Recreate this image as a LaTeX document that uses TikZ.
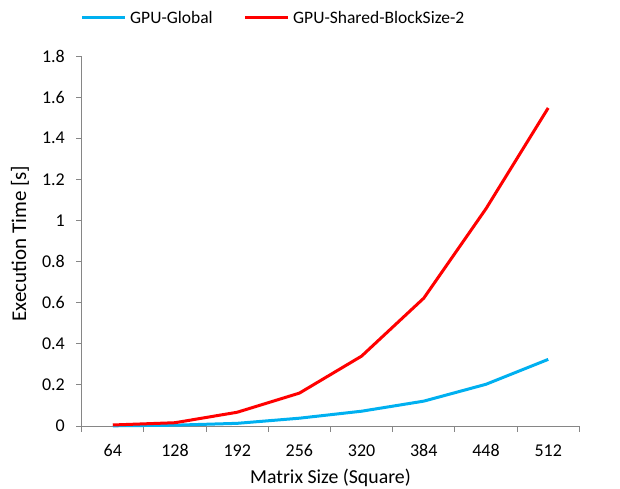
\documentclass[tikz,border=0pt]{standalone}
\usepackage{fontspec}
\setmainfont{Carlito}
\usetikzlibrary{positioning}
\definecolor{gpublue}{HTML}{00B0F0}
\definecolor{gpured}{HTML}{FF0000}
\definecolor{axisgray}{HTML}{868686}

\begin{document}
\begin{tikzpicture}
    [x=1pt, y=-1pt,
    axis/.style={draw=axisgray, line width=1pt},
    series/.style={line width=3pt, line join=round},
    ticklabel/.style={inner sep=0pt, font=\fontsize{18}{21}\selectfont},
    legendlabel/.style={inner sep=0pt, font=\fontsize{17.5}{20}\selectfont},
    axistitle/.style={inner sep=0pt, font=\fontsize{19.8}{23}\selectfont}]
        \useasboundingbox (0,0) rectangle (620,488);
        %% Axes
        \coordinate (O) at (81.7,426);
        \coordinate (Ytop) at (81.7,56);
        \coordinate (Xend) at (579.3,426);
        \draw[axis] (Ytop) -- (O) -- (Xend);
        \foreach \k [evaluate=\k as \yv using {426-\k*41.11}] in {0,...,9}
            \draw[axis] (76,\yv) -- (81.7,\yv);
        \foreach \j [evaluate=\j as \xv using {81.7+\j*62.2}] in {0,...,8}
            \draw[axis] (\xv,426) -- (\xv,432);
        %% Tick labels
        \foreach \t [count=\k from 0, evaluate=\k as \yv using {426-\k*41.11}]
            in {0,0.2,0.4,0.6,0.8,1,1.2,1.4,1.6,1.8}
            \node[ticklabel, anchor=east] (yl\k) at (65,\yv) {\t};
        \foreach \n [count=\i, evaluate=\i as \xv using {81.7+(\i-0.5)*62.2}]
            in {64,128,192,256,320,384,448,512}
            \node[ticklabel] (xl\i) at (\xv,450.5) {\n};
        %% Titles
        \node[axistitle] (xtitle) at (330.5,478) {Matrix Size (Square)};
        \node[axistitle, rotate=90, font=\fontsize{21}{24}\selectfont] (ytitle) at (20,243.5) {Execution Time [s]};
        %% Data
        \foreach \v [count=\i, evaluate=\i as \xv using {81.7+(\i-0.5)*62.2}]
            in {0.001,0.004,0.013,0.038,0.072,0.121,0.203,0.324}
            \coordinate (b\i) at (\xv,{426-\v*205.6});
        \foreach \v [count=\i, evaluate=\i as \xv using {81.7+(\i-0.5)*62.2}]
            in {0.005,0.016,0.067,0.160,0.340,0.622,1.057,1.547}
            \coordinate (r\i) at (\xv,{426-\v*205.6});
        \draw[series, gpublue] (b1) \foreach \i in {2,...,8} {-- (b\i)};
        \draw[series, gpured] (r1) \foreach \i in {2,...,8} {-- (r\i)};
        %% Legend
        \coordinate (lgb1) at (82,17);
        \coordinate (lgb2) at (125,17);
        \coordinate (lgr1) at (245,17);
        \coordinate (lgr2) at (288,17);
        \draw[series, gpublue] (lgb1) -- (lgb2);
        \draw[series, gpured] (lgr1) -- (lgr2);
        \node[legendlabel, right=5pt of lgb2] (lgbtext) {GPU-Global};
        \node[legendlabel, right=5pt of lgr2] (lgrtext) {GPU-Shared-BlockSize-2};
\end{tikzpicture}
\end{document}
